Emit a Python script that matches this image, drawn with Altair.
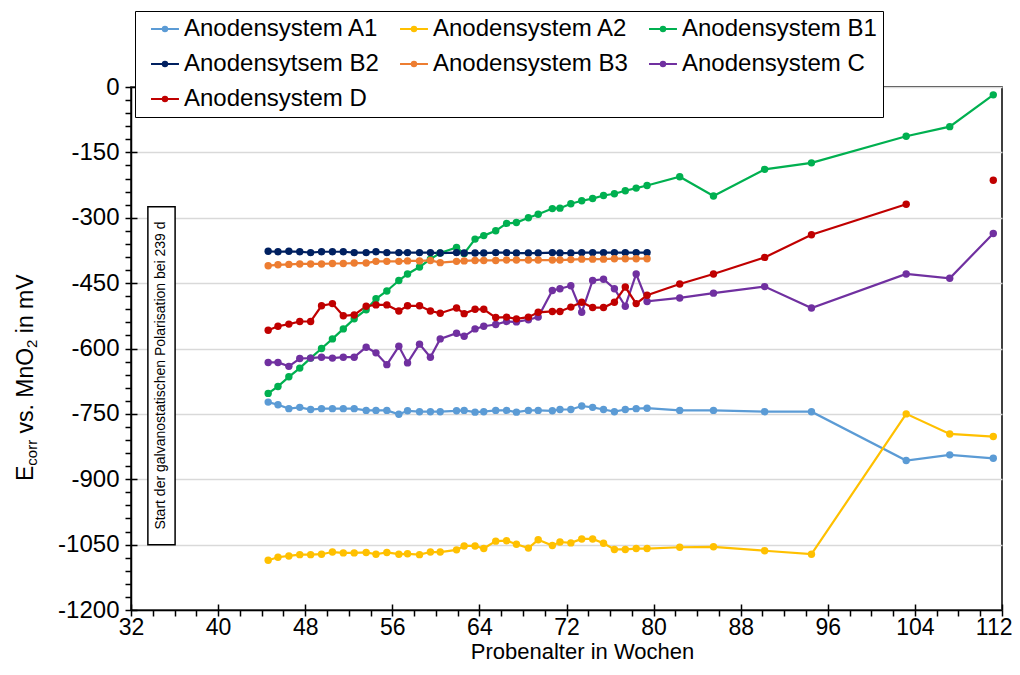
import altair as alt
import pandas as pd

FONT = "Liberation Sans"

series_names = ["Anodensystem A1", "Anodensystem A2", "Anodensystem B1",
                "Anodensytsem B2", "Anodensystem B3", "Anodensystem C", "Anodensystem D"]
series_colors = ["#5B9BD5", "#FFC000", "#00B050", "#002060", "#ED7D31", "#7030A0", "#C00000"]

weeks_dense = [44.6, 45.5, 46.5, 47.5, 48.5, 49.5, 50.5, 51.5, 52.5, 53.6, 54.5, 55.5,
               56.6, 57.4, 58.5, 59.5, 60.4, 61.9, 62.6, 63.6, 64.4, 65.5, 66.5, 67.4,
               68.5, 69.4, 70.7, 71.4, 72.4, 73.4, 74.4, 75.4, 76.4, 77.4, 78.4, 79.4]
weeks_sparse = [82.4, 85.5, 90.2, 94.5, 103.2, 107.2, 111.2]

a1 = [-723, -729, -738, -735, -740, -738, -738, -738, -738, -742, -742, -742,
      -751, -743, -745, -745, -745, -743, -742, -746, -745, -742, -742, -746,
      -742, -742, -743, -740, -740, -732, -735, -740, -745, -740, -738, -737,
      -742, -742, -745, -745, -857, -844, -852]
a2 = [-1086, -1079, -1076, -1073, -1073, -1072, -1067, -1069, -1069, -1068, -1072, -1068,
      -1072, -1071, -1073, -1067, -1067, -1062, -1053, -1053, -1059, -1042, -1041, -1049,
      -1058, -1039, -1052, -1044, -1046, -1037, -1037, -1047, -1061, -1061, -1059, -1059,
      -1056, -1055, -1064, -1072, -750, -796, -802]
b1 = [-703, -687, -665, -645, -622, -600, -578, -555, -532, -511, -486, -468,
      -444, -429, -413, -395, -381, -368, -382, -349, -341, -330, -313, -311,
      -300, -292, -279, -278, -268, -261, -256, -249, -245, -238, -232, -226,
      -206, -250, -189, -174, -113, -91, -18]
b2 = [-377, -378, -377, -378, -380, -378, -378, -378, -380, -380, -378, -380,
      -380, -380, -380, -380, -381, -380, -381, -381, -381, -380, -380, -381,
      -381, -381, -380, -381, -381, -380, -380, -380, -380, -380, -380, -380]
b3 = [-410, -408, -407, -406, -406, -406, -405, -405, -404, -404, -400, -400,
      -400, -399, -399, -398, -403, -400, -399, -398, -398, -398, -397, -397,
      -397, -397, -397, -397, -396, -395, -395, -395, -394, -394, -394, -394]
c = [-632, -632, -641, -623, -622, -620, -622, -620, -620, -597, -610, -637,
     -595, -633, -590, -620, -578, -565, -572, -555, -549, -545, -538, -539,
     -534, -528, -467, -463, -456, -517, -444, -441, -463, -503, -429, -492,
     -484, -473, -458, -507, -429, -439, -336]
d = [-558, -549, -544, -538, -538, -502, -497, -525, -523, -503, -500, -500,
     -514, -502, -502, -514, -519, -507, -520, -510, -510, -529, -528, -532,
     -528, -517, -515, -515, -505, -494, -506, -506, -494, -459, -497, -478,
     -452, -429, -391, -339, -269, None, -214]

x_ticks = list(range(32, 113, 2))
x_major = list(range(32, 113, 8))
y_ticks = list(range(-1200, 1, 30))
y_major = list(range(-1200, 1, 150))

annotation_text = "Start der galvanostatischen Polarisation bei 239 d"
annotation_box = {"week": [33.55], "week2": [36.05], "mv": [-275], "mv2": [-1050]}
annotation_pos = {"week": [34.8], "mv": [-662], "t": [annotation_text]}

rows = []
all_x = weeks_dense + weeks_sparse
for name, vals in zip(series_names, [a1, a2, b1, b2, b3, c, d]):
    seg = 0
    for wk, v in zip(all_x, vals):
        if v is None:
            seg += 1
            continue
        rows.append({"series": name, "week": wk, "mv": v, "seg": seg})
df = pd.DataFrame(rows)

xscale = alt.Scale(domain=[32, 112], nice=False, zero=False)
yscale = alt.Scale(domain=[-1200, 0], nice=False, zero=False)

xaxis = alt.Axis(values=x_ticks,
                 labelExpr="datum.value % 8 === 0 ? toString(datum.value) : ''",
                 grid=False, tickSize=6, tickColor="black", tickWidth=1.5,
                 domainColor="black", domainWidth=1.5,
                 labelFont=FONT, labelFontSize=23, labelColor="black", labelPadding=0,
                 labelAlign={"condition": {"test": "datum.value === 112", "value": "right"},
                             "value": "center"},
                 labelOffset={"condition": {"test": "datum.value === 112", "value": 10},
                              "value": 0},
                 labelFlush=False, labelOverlap=False,
                 title="Probenalter in Wochen", titleFont=FONT, titleFontSize=22,
                 titleFontWeight="normal", titleColor="black",
                 titleX=451, titleY=48, titleBaseline="alphabetic", titleAlign="center")
yaxis = alt.Axis(values=y_ticks,
                 labelExpr="datum.value % 150 === 0 ? toString(datum.value) : ''",
                 grid=True, gridColor="#D9D9D9", gridWidth=1.5,
                 gridOpacity={"condition": {"test": "datum.value % 150 === 0", "value": 1}, "value": 0},
                 tickSize=6, tickColor="black", tickWidth=1.5,
                 domainColor="black", domainWidth=1.5,
                 labelFont=FONT, labelFontSize=24, labelColor="black", labelPadding=6,
                 labelFlush=False, labelOverlap=False, title=None)

legend_symbol = ("M-0.18,0L2.36,0"
                 "M0.89,0A0.2,0.2 0 1 1 1.29,0A0.2,0.2 0 1 1 0.89,0"
                 "M0.99,0A0.1,0.1 0 1 1 1.19,0A0.1,0.1 0 1 1 0.99,0")
legend = alt.Legend(title=None, orient="none", legendX=4, legendY=-76, columns=3,
                    direction="horizontal",
                    symbolType=legend_symbol, symbolSize=484, symbolStrokeWidth=2,
                    labelFont=FONT, labelFontSize=24, labelColor="black", labelLimit=0,
                    labelOffset=19, columnPadding=11, rowPadding=11, padding=6,
                    strokeColor="black", fillColor="white", zindex=2)

lines = alt.Chart(df).mark_line(
    strokeWidth=2.2,
    point=alt.OverlayMarkDef(filled=True, size=55, opacity=1)
).encode(
    x=alt.X("week:Q", scale=xscale, axis=xaxis),
    y=alt.Y("mv:Q", scale=yscale, axis=yaxis),
    color=alt.Color("series:N", scale=alt.Scale(domain=series_names, range=series_colors),
                    legend=legend),
    detail="seg:N",
)

box = alt.Chart(pd.DataFrame(annotation_box)).mark_rect(
    fill="white", stroke="black", strokeWidth=1.5
).encode(
    x=alt.X("week:Q", scale=xscale, axis=xaxis), x2="week2:Q",
    y=alt.Y("mv:Q", scale=yscale, axis=yaxis), y2="mv2:Q",
)
box_text = alt.Chart(pd.DataFrame(annotation_pos)).mark_text(
    angle=270, fontSize=14, font=FONT, color="black", align="center", baseline="middle"
).encode(
    x=alt.X("week:Q", scale=xscale, axis=xaxis),
    y=alt.Y("mv:Q", scale=yscale, axis=yaxis),
    text="t:N",
)


def title_piece(txt, xv, yv, fs):
    return alt.Chart(pd.DataFrame({"t": [txt]})).mark_text(
        angle=270, align="left", baseline="alphabetic", fontSize=fs, font=FONT, color="black"
    ).encode(text="t:N", x=alt.value(xv), y=alt.value(yv))


ytitle = [
    title_piece("E", -98, 394, 23),
    title_piece("corr", -94, 378.7, 15),
    title_piece("vs. MnO", -98, 346.5, 23),
    title_piece("2", -94, 260.9, 15),
    title_piece("in mV", -98, 246.2, 23),
]

main = alt.layer(lines, box, box_text, *ytitle)

tick_layer = alt.Chart(pd.DataFrame({"week": [32], "mv": [0]})).mark_point(opacity=0).encode(
    x=alt.X("week:Q", scale=xscale,
            axis=alt.Axis(orient="bottom", offset=-6, values=x_major, labels=False, domain=False,
                          grid=False, tickSize=6, tickColor="black", tickWidth=1.5, title=None)),
    y=alt.Y("mv:Q", scale=yscale,
            axis=alt.Axis(orient="left", offset=-6, values=y_major, labels=False, domain=False,
                          grid=False, tickSize=6, tickColor="black", tickWidth=1.5, title=None)),
)

chart = alt.layer(main, tick_layer).resolve_scale(
    x="independent", y="independent"
).properties(
    width=871, height=523,
    padding={"left": 123, "top": 79, "right": 10, "bottom": 53},
    autosize=alt.AutoSizeParams(type="none"),
).configure_view(stroke="black", strokeWidth=1.5)

chart.save("out.html", embed_options={"renderer": "svg", "actions": False})
